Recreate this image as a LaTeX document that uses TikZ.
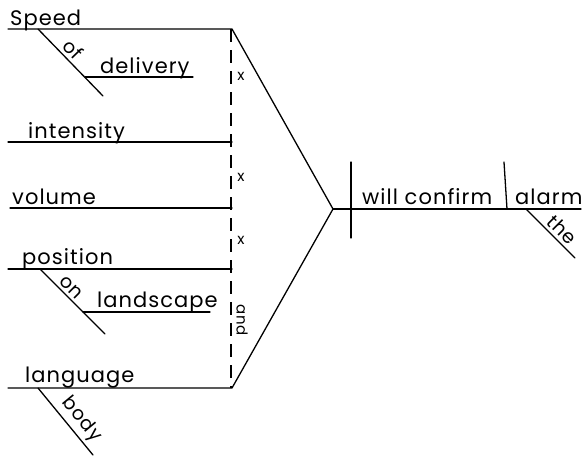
\documentclass[tikz,border=0pt]{standalone}
\usepackage{fontspec}
\setmainfont{Poppins}[LetterSpace=5]
\begin{document}
\begin{tikzpicture}[x=1pt,y=-1pt,
  rule/.style={line width=1.3pt, line cap=round},
  word/.style={font=\fontsize{21}{24}\selectfont, inner sep=0pt, anchor=base west},
  slant/.style={font=\fontsize{19}{22}\selectfont, inner sep=0pt, sloped, above=3pt},
  conjmark/.style={font=\fontsize{15}{17}\selectfont, inner sep=0pt},
  conjline/.style={dash pattern=on 13pt off 8pt, line width=1.2pt}]
\useasboundingbox (0,0) rectangle (582,458);

% --- compound subject: base lines
\coordinate (s0) at (8,29);    \coordinate (s1) at (232,29);
\coordinate (i0) at (8,142);   \coordinate (i1) at (232,142);
\coordinate (v0) at (10,208);  \coordinate (v1) at (232,208);
\coordinate (p0) at (8,269);   \coordinate (p1) at (232,269);
\coordinate (g0) at (8,388);   \coordinate (g1) at (232,388);

% --- modifiers
\coordinate (sm0) at (38,29);  \coordinate (sm1) at (103,96);
\coordinate (d0) at (85,77);   \coordinate (d1) at (193,77);
\coordinate (pm0) at (40,269); \coordinate (pm1) at (105,334);
\coordinate (l0) at (83,312);  \coordinate (l1) at (210,312);
\coordinate (gm0) at (38,388); \coordinate (gm1) at (93,455);

% --- predicate
\coordinate (apex) at (333,209); \coordinate (m1) at (581,209);
\coordinate (dv0) at (351,162);  \coordinate (dv1) at (351,238);
\coordinate (ob0) at (504,162);  \coordinate (ob1) at (507,209);
\coordinate (t0) at (526,209);   \coordinate (t1) at (575,258);

% --- conjunction line
\coordinate (c0) at (231,29);  \coordinate (c1) at (231,388);

\draw[rule] (s0) -- (s1) -- (apex) -- (g1) -- (g0);
\draw[rule] (i0) -- (i1);
\draw[rule] (v0) -- (v1);
\draw[rule] (p0) -- (p1);
\draw[conjline] (c0) -- (c1);

\draw[rule] (sm0) -- (sm1) node[slant, pos=0.42] (of) {of};
\draw[rule] (d0) -- (d1);
\draw[rule] (pm0) -- (pm1) node[slant, pos=0.38] (on) {on};
\draw[rule] (l0) -- (l1);
\draw[rule] (gm0) -- (gm1) node[slant, pos=0.6] (body) {body};

\draw[rule] (apex) -- (m1);
\draw[rule] (dv0) -- (dv1);
\draw[rule] (ob0) -- (ob1);
\draw[rule] (t0) -- (t1) node[slant, pos=0.58] (the) {the};

% --- words on the lines
\node[word] (speed) at (10,25) {Speed};
\node[word] (delivery) at (100,73) {delivery};
\node[word] (intensity) at (28,138) {intensity};
\node[word] (volume) at (12,204) {volume};
\node[word] (position) at (22,264) {position};
\node[word] (landscape) at (97,307) {landscape};
\node[word] (language) at (25,382) {language};
\node[word] (verb) at (362,204) {will confirm};
\node[word] (alarm) at (515,204) {alarm};

% --- conjunction marks
\node[conjmark] (x1) at (241,76) {x};
\node[conjmark] (x2) at (241,177) {x};
\node[conjmark] (x3) at (241,240) {x};
\node[conjmark, rotate=-90] (and) at (242,320) {and};
\end{tikzpicture}
\end{document}
